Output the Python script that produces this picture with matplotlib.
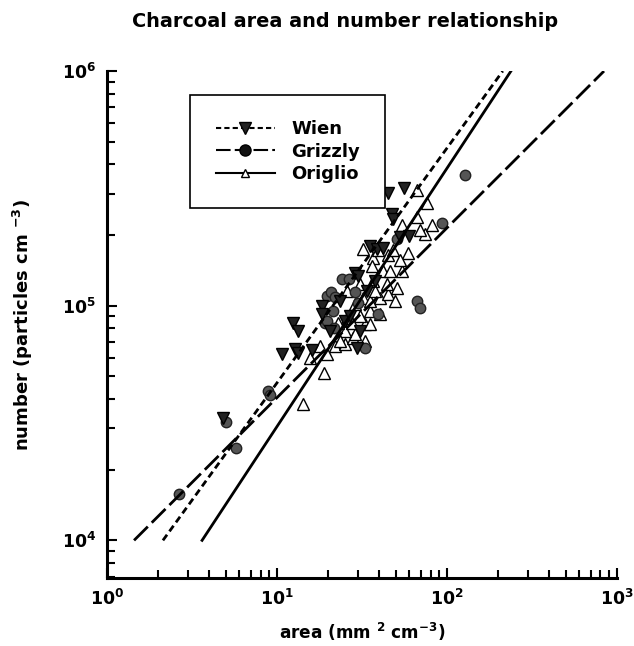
import math
import matplotlib
matplotlib.use("Agg")
import matplotlib.pyplot as plt
from matplotlib.ticker import LogLocator, FuncFormatter, NullFormatter

plt.rcParams["font.family"] = ["DejaVu Sans"]
plt.rcParams["font.weight"] = "bold"
plt.rcParams["mathtext.fontset"] = "custom"
plt.rcParams["mathtext.rm"] = "DejaVu Sans:bold"
plt.rcParams["mathtext.bf"] = "DejaVu Sans:bold"

# Wien (filled down triangles)
wien_area = [4.81, 12.4, 13.3, 10.7, 12.8, 13.3, 16.1, 18.4, 18.4, 28.7, 30.0, 29.6,
             35.2, 38.7, 42.0, 45.0, 55.8, 47.5, 48.1, 59.7, 52.9, 23.5, 20.5, 25.1,
             30.8, 26.9, 33.8, 37.7]
wien_number = [3.32e4, 8.45e4, 7.82e4, 6.24e4, 6.55e4, 6.30e4, 6.49e4, 1.0e5, 9.25e4,
               1.38e5, 1.34e5, 6.62e4, 1.80e5, 1.75e5, 1.77e5, 3.01e5, 3.16e5, 2.47e5,
               2.35e5, 1.99e5, 1.97e5, 1.05e5, 7.82e4, 8.63e4, 7.82e4, 9.06e4, 1.16e5,
               1.28e5]

# Grizzly (grey circles)
grizzly_area = [2.65, 5.01, 5.74, 8.85, 9.09, 19.2, 19.7, 20.8, 21.9, 21.3, 19.7, 21.6,
                24.1, 26.5, 28.7, 30.0, 32.9, 39.3, 50.8, 66.6, 69.4, 93.5, 128]
grizzly_number = [1.57e4, 3.19e4, 2.47e4, 4.34e4, 4.17e4, 8.45e4, 1.10e5, 1.14e5, 1.09e5,
                  9.5e4, 8.63e4, 8.06e4, 1.30e5, 1.30e5, 1.14e5, 1.03e5, 6.62e4, 9.25e4,
                  1.93e5, 1.05e5, 9.8e4, 2.26e5, 3.59e5]

# Origlio (open up triangles)
origlio_area = [14.2, 18.9, 19.7, 15.6, 17.9, 21.9, 25.1, 28.0, 28.7, 32.9, 35.2, 30.8,
                25.8, 35.2, 40.4, 40.4, 45.0, 50.8, 32.1, 28.7, 36.7, 42.0, 30.8, 44.4,
                25.8, 36.7, 39.3, 32.1, 45.0, 48.1, 36.2, 54.3, 59.0, 54.3, 66.6, 74.3,
                81.6, 76.3, 66.6, 35.2, 37.7, 25.1, 22.8, 27.6, 32.9, 46.2, 49.4, 52.9,
                23.5, 69.4]
origlio_number = [3.81e4, 5.17e4, 6.24e4, 6.0e4, 6.75e4, 6.75e4, 6.88e4, 7.30e4, 7.59e4,
                  8.37e4, 8.37e4, 9.06e4, 8.89e4, 9.5e4, 9.25e4, 1.08e5, 1.125e5, 1.19e5,
                  1.08e5, 1.02e5, 1.28e5, 1.41e5, 1.24e5, 1.24e5, 1.16e5, 1.60e5, 1.72e5,
                  1.75e5, 1.64e5, 1.72e5, 1.48e5, 1.41e5, 1.67e5, 2.20e5, 2.38e5, 2.03e5,
                  2.20e5, 2.75e5, 3.10e5, 1.05e5, 1.16e5, 7.82e4, 8.45e4, 8.45e4, 7.08e4,
                  1.41e5, 1.05e5, 1.56e5, 7.08e4, 2.10e5]

# regression line end points (straight on log-log axes)
wien_fit_area = [2.13, 213]
wien_fit_number = [1e4, 1e6]
grizzly_fit_area = [1.44, 840]
grizzly_fit_number = [1e4, 1e6]
origlio_fit_area = [3.62, 238]
origlio_fit_number = [1e4, 1e6]

fig = plt.figure(figsize=(6.34, 6.46), dpi=100)
ax = fig.add_axes([0.169, 0.105, 0.804, 0.785])

ax.plot(origlio_area, origlio_number, "^", ms=8, mfc="white", mec="black", mew=1.0, zorder=3)
ax.plot(grizzly_area, grizzly_number, "o", ms=7.5, mfc="#555555", mec="#222222", mew=1.0, zorder=3)
ax.plot(wien_area, wien_number, "v", ms=8, mfc="#222222", mec="black", mew=1.0, zorder=3)

ax.plot(wien_fit_area, wien_fit_number, color="black", lw=2, ls=(0, (2.5, 1.5)), zorder=4)
ax.plot(grizzly_fit_area, grizzly_fit_number, color="black", lw=2, ls=(0, (7, 2)), zorder=4)
ax.plot(origlio_fit_area, origlio_fit_number, color="black", lw=2, ls="-", zorder=4)

# legend handles
h_w, = ax.plot([], [], color="black", lw=1.5, ls=(0, (2.5, 1.5)), marker="v", ms=8,
               mfc="#222222", mec="black")
h_g, = ax.plot([], [], color="black", lw=1.5, ls=(0, (7, 2)), marker="o", ms=8,
               mfc="#111111", mec="black")
h_o, = ax.plot([], [], color="black", lw=1.5, ls="-", marker="^", ms=6,
               mfc="white", mec="black")
leg = ax.legend([h_w, h_g, h_o], ["Wien", "Grizzly", "Origlio"],
                loc="upper left", bbox_to_anchor=(0.163, 0.953), handlelength=3.3,
                fontsize=13, frameon=True, fancybox=False, framealpha=1,
                borderpad=1.4, labelspacing=0.25, handletextpad=0.9, borderaxespad=0)
leg.get_frame().set_edgecolor("black")
leg.get_frame().set_linewidth(1.2)

ax.set_xscale("log")
ax.set_yscale("log")
ax.set_xlim(1, 1000)
ax.set_ylim(6.9e3, 1e6)

ax.spines["top"].set_visible(False)
ax.spines["right"].set_visible(False)
ax.spines["left"].set_linewidth(2.2)
ax.spines["bottom"].set_linewidth(2.2)

fmt = FuncFormatter(lambda v, p: r"$\mathbf{10^{%d}}$" % round(math.log10(v)))
for axis in (ax.xaxis, ax.yaxis):
    axis.set_major_locator(LogLocator(base=10, numticks=10))
    axis.set_minor_locator(LogLocator(base=10, subs=range(2, 10), numticks=20))
    axis.set_major_formatter(fmt)
    axis.set_minor_formatter(NullFormatter())
ax.tick_params(which="both", direction="in", width=1.5, labelsize=12.5)
ax.tick_params(which="major", length=7, pad=8)
ax.tick_params(which="minor", length=6)

ax.set_xlabel(r"area (mm $^{2}$ cm$^{-3}$)", fontsize=12.2, fontweight="bold", labelpad=8)
ax.set_ylabel(r"number (particles cm $^{-3}$)", fontsize=13, fontweight="bold", labelpad=19)
fig.suptitle("Charcoal area and number relationship", fontsize=13.9, fontweight="bold",
             x=0.545, y=0.982)

fig.savefig("out.png", dpi=100)
